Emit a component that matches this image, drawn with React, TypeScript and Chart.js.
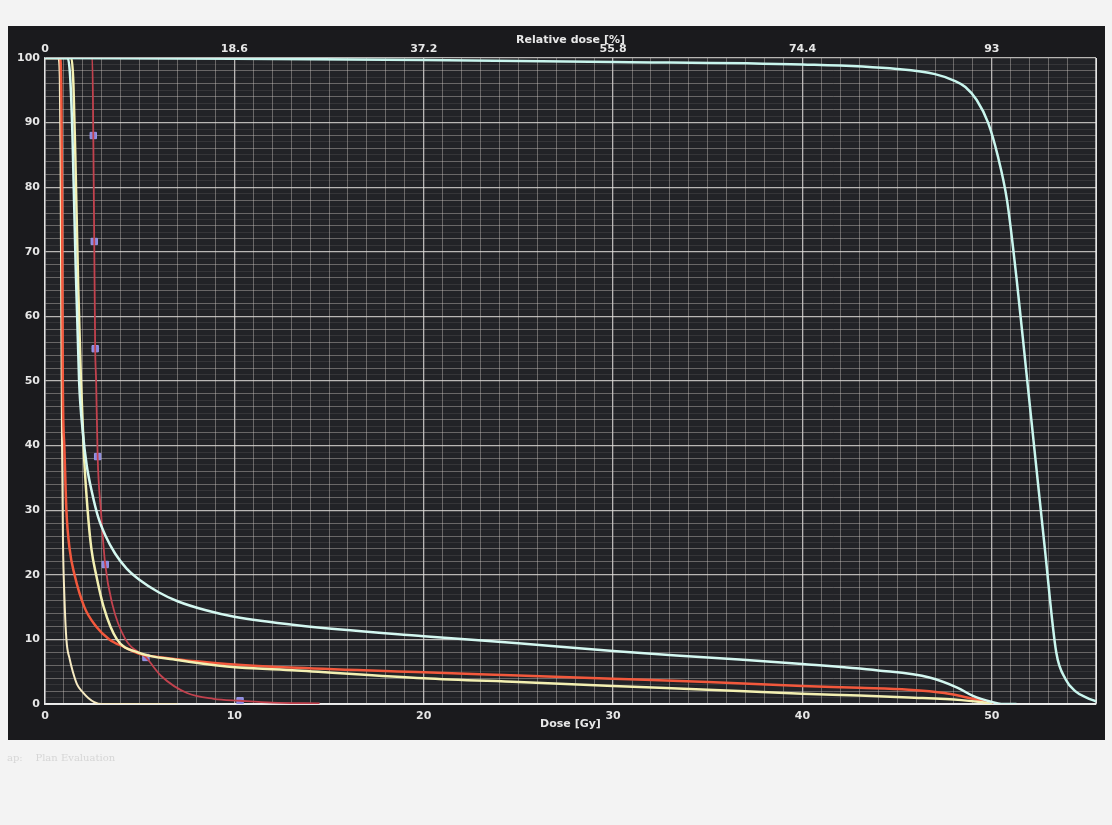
import React, { useEffect, useRef } from 'react';
import { Chart, registerables } from 'chart.js';

Chart.register(...registerables);

// ---- Data (dose in Gy, volume in %) ----
const ptvDose = [0, 10, 20, 30, 40, 45, 47, 48, 48.6, 49.2, 49.8, 50.3, 50.8, 51.3, 51.8, 52.3, 52.8, 53.4, 53.9, 54.4, 55, 55.5];
const ptvPct = [100, 99.9, 99.7, 99.4, 99, 98.3, 97.5, 96.5, 95.5, 93.5, 90, 85, 78, 66, 52, 38, 24, 8, 3.8, 2, 1, 0.4];

const cyanDose = [0, 1.2, 1.33, 1.45, 1.6, 1.8, 2.0, 2.2, 2.5, 2.8, 3.2, 3.7, 4.3, 5.0, 6.0, 7.0, 8.5, 10, 13.3, 20, 25, 30, 35, 40, 44, 46.7, 48.2, 49, 50, 50.5, 51.3];
const cyanPct = [100, 100, 97, 88, 70, 50, 42, 37, 32.5, 29, 26, 23.3, 21, 19.2, 17.3, 15.9, 14.5, 13.5, 12.2, 10.5, 9.4, 8.2, 7.2, 6.2, 5.2, 4.1, 2.5, 1.25, 0.3, 0, 0];

const yellowDose = [0, 1.4, 1.5, 1.6, 1.75, 1.9, 2.05, 2.25, 2.45, 2.7, 3.1, 3.8, 4.9, 7.0, 9.6, 13.3, 20, 25, 30, 35, 40, 43, 45.6, 48.4, 49.4, 50];
const yellowPct = [100, 100, 96, 85, 65, 50, 39, 30, 24, 20, 15, 10, 8, 6.8, 5.8, 5.2, 4.0, 3.4, 2.8, 2.2, 1.6, 1.3, 1.0, 0.6, 0.3, 0];

const redDose = [0, 0.8, 0.86, 0.9, 0.94, 1.02, 1.13, 1.3, 1.56, 2.08, 2.7, 3.4, 4.2, 4.95, 6.5, 8, 9.6, 13.3, 20, 25, 30, 35, 40, 43, 45.6, 47.5, 48.4, 49.3, 50, 50.3];
const redPct = [100, 100, 95, 80, 50, 40, 30, 24, 20, 15, 12, 10, 8.8, 7.8, 7.1, 6.6, 6.2, 5.6, 4.9, 4.4, 3.9, 3.4, 2.8, 2.5, 2.2, 1.7, 1.2, 0.6, 0.1, 0];

const creamDose = [0, 0.7, 0.78, 0.82, 0.86, 0.9, 0.95, 1.02, 1.13, 1.3, 1.47, 1.7, 2.0, 2.3, 2.6, 3.0, 7.0];
const creamPct = [100, 100, 97, 85, 60, 40, 25, 17, 10, 7, 5, 3, 1.8, 0.9, 0.3, 0, 0];

const darkRedDose = [0, 2.5, 2.55, 2.6, 2.65, 2.7, 2.78, 2.95, 3.18, 3.55, 4.25, 5.33, 6.15, 7.5, 8.9, 10.3, 12, 14.5];
const darkRedPct = [100, 100, 88, 71.6, 55, 50, 38.3, 30, 21.6, 15.5, 10, 7.2, 4.3, 1.7, 0.8, 0.5, 0.2, 0.1];

const markerDose = [2.55, 2.6, 2.65, 2.78, 3.18, 5.33, 10.3];
const markerPct = [88, 71.6, 55, 38.3, 21.6, 7.2, 0.5];

const doseTickLabels = ['0', '10', '20', '30', '40', '50'];
const relDoseTickLabels = ['0', '18.6', '37.2', '55.8', '74.4', '93'];
const volumeTickLabels = ['0', '10', '20', '30', '40', '50', '60', '70', '80', '90', '100'];

const DOSE_MAX = 55.5;

const pts = (xs: number[], ys: number[]) => xs.map((x, i) => ({ x, y: ys[i] }));

const FONT = { family: 'DejaVu Sans', size: 11, weight: 'bold' as const };

const majorGrid = 'rgba(228,226,222,0.78)';
const midGrid = 'rgba(205,198,192,0.42)';
const minorGrid = 'rgba(195,188,182,0.12)';

export default function App() {
  const ref = useRef<HTMLCanvasElement | null>(null);

  useEffect(() => {
    if (!ref.current) return;
    const bgPlugin = {
      id: 'bg',
      beforeDraw(chart: any) {
        const { ctx, chartArea } = chart;
        ctx.save();
        ctx.fillStyle = '#f3f3f3';
        ctx.fillRect(0, 0, chart.width, chart.height);
        ctx.fillStyle = '#1a1a1d';
        ctx.fillRect(8, 26, 1097, 714);
        ctx.fillStyle = '#222327';
        ctx.fillRect(chartArea.left, chartArea.top, chartArea.right - chartArea.left, chartArea.bottom - chartArea.top);
        ctx.restore();
      },
      beforeDatasetsDraw(chart: any) {
        const { ctx, chartArea } = chart;
        ctx.save();
        ctx.strokeStyle = 'rgba(235,235,235,0.9)';
        ctx.lineWidth = 1.5;
        ctx.beginPath();
        ctx.moveTo(chartArea.right, chartArea.top);
        ctx.lineTo(chartArea.right, chartArea.bottom);
        ctx.stroke();
        ctx.restore();
      },
    };

    const line = (data: any[], color: string, width = 2) => ({
      type: 'line' as const,
      data,
      borderColor: color,
      backgroundColor: color,
      borderWidth: width,
      pointRadius: 0,
      cubicInterpolationMode: 'monotone' as const,
      fill: false,
      xAxisID: 'x',
      yAxisID: 'y',
    });

    const chart = new Chart(ref.current, {
      type: 'line',
      data: {
        datasets: [
          line(pts(ptvDose, ptvPct), '#c9f6ee', 2.5),
          line(pts(cyanDose, cyanPct), '#d4f8f1', 2.5),
          line(pts(yellowDose, yellowPct), '#f3f0b2', 2.5),
          line(pts(redDose, redPct), '#f2583c', 2.5),
          line(pts(creamDose, creamPct), '#f6eac2', 2),
          line(pts(darkRedDose, darkRedPct), '#c2424e', 1.8),
          {
            type: 'line' as const,
            data: pts(markerDose, markerPct),
            showLine: false,
            pointStyle: 'rect',
            pointRadius: 4.5,
            pointBackgroundColor: '#8a88e0',
            pointBorderColor: '#9a98ea',
            xAxisID: 'x',
            yAxisID: 'y',
          },
        ],
      },
      options: {
        animation: false,
        responsive: false,
        parsing: false as any,
        layout: { padding: { left: 8, right: 16, top: 26, bottom: 85 } },
        plugins: { legend: { display: false }, tooltip: { enabled: false } },
        scales: {
          x: {
            type: 'linear',
            position: 'bottom',
            min: 0,
            max: DOSE_MAX,
            afterFit: (s: any) => { s.height = 36; },
            ticks: {
              stepSize: 1,
              autoSkip: false,
              maxRotation: 0,
              padding: 6,
              color: '#e6e6e6',
              font: FONT,
              callback: (v: any) => {
                const n = Number(v);
                return n % 10 === 0 ? doseTickLabels[n / 10] ?? '' : '';
              },
            },
            grid: {
              drawTicks: false,
              lineWidth: (c: any) => (c.tick && c.tick.value % 10 === 0 ? 1.3 : 1),
              color: (c: any) => {
                const v = c.tick ? c.tick.value : 0;
                if (v >= DOSE_MAX) return 'rgba(235,235,235,0.9)';
                return v % 10 === 0 ? majorGrid : midGrid;
              },
            },
            border: { display: true, color: 'rgba(240,240,240,0.95)', width: 2 },
            title: {
              display: true,
              text: 'Dose [Gy]',
              color: '#e8e8e8',
              font: FONT,
              padding: { top: 0, bottom: 9 },
            },
          },
          xTop: {
            type: 'linear',
            position: 'top',
            min: 0,
            max: DOSE_MAX,
            afterFit: (s: any) => { s.height = 32; },
            ticks: {
              stepSize: 10,
              autoSkip: false,
              maxRotation: 0,
              padding: 2,
              color: '#e6e6e6',
              font: FONT,
              callback: (v: any) => {
                const n = Number(v);
                return n % 10 === 0 ? relDoseTickLabels[n / 10] ?? '' : '';
              },
            },
            grid: { display: false, drawTicks: false },
            border: { display: false },
            title: {
              display: true,
              text: 'Relative dose [%]',
              color: '#e8e8e8',
              font: FONT,
              padding: { top: 8, bottom: 0 },
            },
          },
          y: {
            type: 'linear',
            min: 0,
            max: 100,
            afterFit: (s: any) => { s.width = 37; },
            ticks: {
              stepSize: 1,
              autoSkip: false,
              padding: 5,
              color: '#e6e6e6',
              font: FONT,
              callback: (v: any) => {
                const n = Number(v);
                return n % 10 === 0 ? volumeTickLabels[n / 10] ?? '' : '';
              },
            },
            grid: {
              drawTicks: false,
              lineWidth: (c: any) => (c.tick && c.tick.value % 10 === 0 ? 1.3 : 1),
              color: (c: any) => {
                const v = c.tick ? c.tick.value : 0;
                if (v % 10 === 0) return majorGrid;
                if (v % 2 === 0) return midGrid;
                return minorGrid;
              },
            },
            border: { display: true, color: 'rgba(235,235,235,0.85)', width: 1.5 },
          },
        },
      },
      plugins: [bgPlugin],
    } as any);

    return () => chart.destroy();
  }, []);

  return (
    <div style={{ position: 'fixed', left: 0, top: 0, width: 1112, height: 825, background: '#f3f3f3' }}>
      <canvas ref={ref} width={1112} height={825} style={{ display: 'block', width: 1112, height: 825 }} />
      <div
        style={{
          position: 'absolute',
          left: 7,
          top: 752,
          fontFamily: 'DejaVu Serif, serif',
          fontSize: 10,
          color: '#d6d6d6',
          whiteSpace: 'pre',
        }}
      >
        {'ap:    Plan Evaluation'}
      </div>
    </div>
  );
}
